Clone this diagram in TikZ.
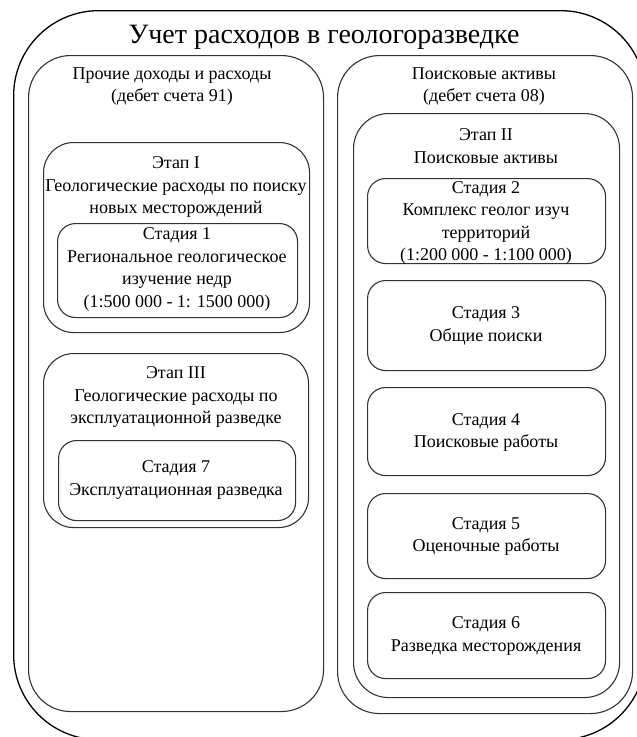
\documentclass[tikz,border=0pt]{standalone}
\usepackage{fontspec}
\setmainfont{Liberation Serif}
\begin{document}
\begin{tikzpicture}[x=1pt,y=-1pt,
  outerframe/.style={draw=black, line width=1.3pt, rounded corners=85pt, inner sep=0pt, anchor=north west},
  panel/.style={draw=black!80, line width=1.1pt, rounded corners=42pt, inner sep=0pt, anchor=north west},
  stagebox/.style={draw=black!80, line width=1.1pt, rounded corners=#1, inner sep=0pt, anchor=north west},
  txt/.style={align=center, inner sep=0pt, font=\fontsize{18}{22.5}\selectfont},
  titletxt/.style={align=center, inner sep=0pt, font=\fontsize{28}{32}\selectfont}]
\useasboundingbox (0,0) rectangle (637,737);
\begin{scope}
\clip (0,0) rectangle (637,737);
% outer frame, running past the right and bottom edges
\node[outerframe, minimum width=632pt, minimum height=729pt] (outer) at (13,10) {};
\end{scope}
\node[titletxt] (title) at (324,37) {Учет расходов в геологоразведке};

% left panel: other income and expenses
\node[panel, minimum width=295pt, minimum height=656pt] (left) at (28,55) {};
\node[txt] (lefthead) at (172,86.5) {Прочие доходы и расходы\\(дебет счета 91)};

\node[stagebox=30pt, minimum width=266pt, minimum height=190pt] (etap1) at (43,142) {};
\node[txt] (etap1t) at (176,187) {Этап I\\Геологические расходы по поиску\\новых месторождений};
\node[stagebox=18pt, minimum width=240pt, minimum height=94pt] (st1) at (57,223) {};
\node[txt] (st1t) at (177,269.5) {Стадия 1\\Региональное геологическое\\изучение недр\\(1:500 000 - 1: 1500 000)};

\node[stagebox=30pt, minimum width=265pt, minimum height=174pt] (etap3) at (43,353) {};
\node[txt] (etap3t) at (176,397) {Этап III\\Геологические расходы по\\эксплуатационной разведке};
\node[stagebox=18pt, minimum width=237pt, minimum height=80pt] (st7) at (58,440) {};
\node[txt] (st7t) at (176,480) {Стадия 7\\Эксплуатационная разведка};

% right panel: exploration assets
\node[panel, minimum width=295pt, minimum height=658pt] (right) at (337,55) {};
\node[txt] (righthead) at (484,86.5) {Поисковые активы\\(дебет счета 08)};

\node[stagebox=35pt, minimum width=266pt, minimum height=584pt] (etap2) at (353,113) {};
\node[txt] (etap2t) at (486,146) {Этап II\\Поисковые активы};

\node[stagebox=18pt, minimum width=238pt, minimum height=85pt] (st2) at (367,178) {};
\node[txt] (st2t) at (486,223) {Стадия 2\\Комплекс геолог изуч\\территорий\\(1:200 000 - 1:100 000)};
\node[stagebox=18pt, minimum width=238pt, minimum height=90pt] (st3) at (367,280) {};
\node[txt] (st3t) at (486,326) {Стадия 3\\Общие поиски};
\node[stagebox=18pt, minimum width=238pt, minimum height=88pt] (st4) at (367,387) {};
\node[txt] (st4t) at (486,432.5) {Стадия 4\\Поисковые работы};
\node[stagebox=18pt, minimum width=238pt, minimum height=85pt] (st5) at (367,493) {};
\node[txt] (st5t) at (486,536.5) {Стадия 5\\Оценочные работы};
\node[stagebox=18pt, minimum width=238pt, minimum height=86pt] (st6) at (367,592) {};
\node[txt] (st6t) at (486,636) {Стадия 6\\Разведка месторождения};
\end{tikzpicture}
\end{document}
